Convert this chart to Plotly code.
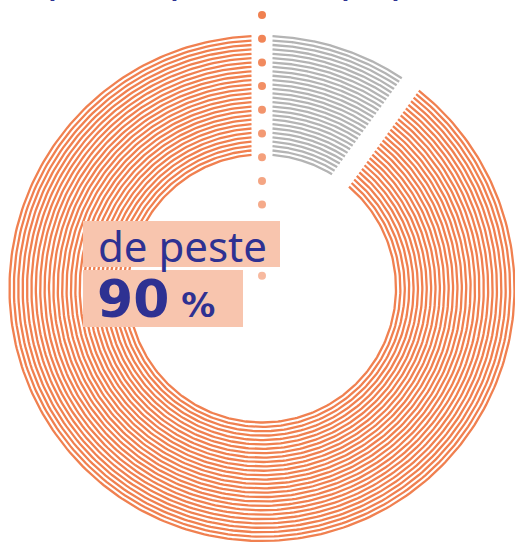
import numpy as np
import plotly.graph_objects as go

# ---- data ----
categories = ["Rest", "Majoritatea"]
values = [10, 90]
colors = ["#B4B4B4", "#F08050"]
label_top = "de peste"
label_value = "90"
label_unit = "%"
title_fragments = ["p", "p", "p", "p", ","]

# ---- geometry / style ----
W, H = 515, 542
CX, CY = 262, 288.5            # pixel centre of the donut
N_RINGS = 28
R_IN, R_OUT = 134.0, 252.5
HALF_GAP = 10.5                # half width of the straight cuts (px)
LINE_W = 2.3
BLUE = "#2E3192"
PEACH = "#F8C5AE"

def X(px):
    return px - CX

def Y(py):
    return CY - py

fig = go.Figure()

total = sum(values)
radii = np.linspace(R_IN, R_OUT, N_RINGS)
start = 0.0
for cat, val, col in zip(categories, values, colors):
    end = start + 360.0 * val / total
    xs, ys = [], []
    for r in radii:
        d = np.degrees(np.arcsin(HALF_GAP / r))
        th = np.radians(np.linspace(start + d, end - d, 300))
        xs += list(r * np.sin(th)) + [None]
        ys += list(r * np.cos(th)) + [None]
    fig.add_trace(go.Scatter(x=xs, y=ys, mode="lines", name=cat,
                             line=dict(color=col, width=LINE_W),
                             hoverinfo="skip", showlegend=False))
    start = end

# dotted guide line
n_dots = 12
dot_y = [Y(15 + 23.7 * k) for k in range(n_dots)]
dot_op = np.linspace(1.0, 0.55, n_dots)
fig.add_trace(go.Scatter(
    x=[0] * n_dots, y=dot_y, mode="markers",
    marker=dict(size=8, color=[f"rgba(240,128,80,{o:.2f})" for o in dot_op]),
    hoverinfo="skip", showlegend=False))

# label boxes
fig.add_shape(type="rect", xref="x", yref="y", layer="above",
              x0=X(83), x1=X(280), y0=Y(221), y1=Y(267),
              fillcolor=PEACH, line=dict(width=0))
fig.add_shape(type="rect", xref="x", yref="y", layer="above",
              x0=X(83), x1=X(243), y0=Y(270), y1=Y(327),
              fillcolor=PEACH, line=dict(width=0))

fig.add_annotation(x=X(96), y=Y(245), xref="x", yref="y", text=label_top,
                   showarrow=False, xanchor="left", yanchor="middle",
                   font=dict(family="Noto Sans", size=42, color=BLUE))
fig.add_annotation(x=X(95), y=Y(299), xref="x", yref="y",
                   text=f"<b>{label_value}<span style='font-size:34px'> {label_unit}</span></b>",
                   showarrow=False, xanchor="left", yanchor="middle",
                   font=dict(family="DejaVu Sans", size=52, color=BLUE))

# clipped title line (only descenders visible)
frag_x = [50, 172, 343, 393, 445]
for ch, px in zip(title_fragments, frag_x):
    fig.add_annotation(x=X(px - 5), y=Y(5), xref="x", yref="y", text=ch,
                       showarrow=False, xanchor="left", yanchor="bottom",
                       font=dict(family="Noto Sans", size=42, color=BLUE))

fig.update_xaxes(range=[X(0), X(W)], visible=False, fixedrange=True)
fig.update_yaxes(range=[Y(H), Y(0)], visible=False, fixedrange=True)
fig.update_layout(width=W, height=H, margin=dict(l=0, r=0, t=0, b=0),
                  paper_bgcolor="white", plot_bgcolor="white",
                  showlegend=False)

fig.write_html("out.html", config={"displayModeBar": False},
               post_script="document.body.style.margin='0';document.body.style.overflow='hidden';")
